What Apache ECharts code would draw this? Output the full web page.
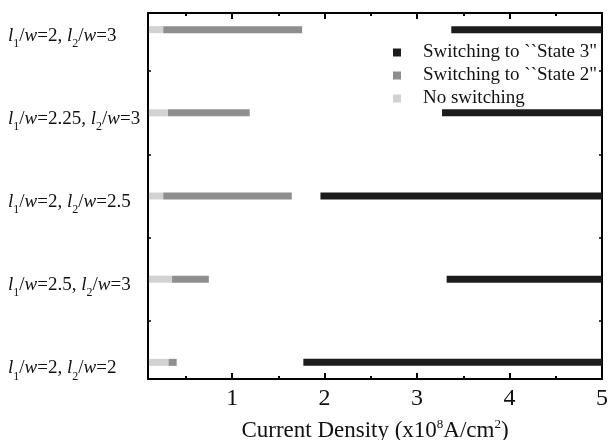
<!DOCTYPE html>
<html>
<head>
<meta charset="utf-8">
<script src="https://cdn.jsdelivr.net/npm/echarts@6/dist/echarts.min.js"></script>
<style>html,body{margin:0;padding:0;background:#fff}#c{width:609px;height:440px}</style>
</head>
<body>
<div id="c"></div>
<script>
// Rows from bottom (y=1) to top (y=5)
const rowPos = [1, 2, 3, 4, 5];
const l1Ratio = ['2', '2.5', '2', '2.25', '2'];
const l2Ratio = ['2', '3', '2.5', '3', '3'];
const noSwitchStart = [0.1, 0.1, 0.1, 0.1, 0.1];
const noSwitchEnd = [0.31, 0.35, 0.254, 0.305, 0.254];
const state2End = [0.40, 0.748, 1.645, 1.19, 1.757];
const state3Start = [1.77, 3.32, 1.955, 3.27, 3.37];
const state3End = [5, 5, 5, 5, 5];
const xTickLabels = [1, 2, 3, 4, 5];
const xMinorTicks = [0.5, 1.5, 2.5, 3.5, 4.5];
const yMinorTicks = [1.5, 2.5, 3.5, 4.5];
const seriesNames = ['Switching to ``State 3"', 'Switching to ``State 2"', 'No switching'];
const colors = ['#1c1c1c', '#8e8e8e', '#d2d2d2'];

const FONT = 'Liberation Serif';

function rows(starts, ends) {
  return rowPos.map((y, i) => [starts[i], ends[i], y]);
}

function renderBar(params, api) {
  const s = api.coord([api.value(0), api.value(2)]);
  const e = api.coord([api.value(1), api.value(2)]);
  const h = 7;
  return {
    type: 'rect',
    shape: { x: s[0], y: s[1] - h / 2, width: e[0] - s[0], height: h },
    style: { fill: api.visual('color') }
  };
}

const chart = echarts.init(document.getElementById('c'));
const axisLine = { show: true, onZero: false, lineStyle: { color: '#000', width: 2 } };
const yLabelRich = {
  i: { fontFamily: FONT, fontSize: 19, fontStyle: 'italic', color: '#111' },
  n: { fontFamily: FONT, fontSize: 19, color: '#111' },
  s: { fontFamily: FONT, fontSize: 12, color: '#111', padding: [16, 0, 0, 0] }
};
chart.setOption({
  animation: false,
  grid: { left: 148, right: 7, top: 13, bottom: 61, containLabel: false, outerBoundsMode: 'none' },
  legend: {
    orient: 'vertical', left: 388, top: 38, itemWidth: 8, itemHeight: 8, itemGap: 4,
    icon: 'rect',
    textStyle: { fontFamily: FONT, fontSize: 19, color: '#111', padding: [0, 0, 0, 17] },
    data: seriesNames
  },
  xAxis: [
    {
      type: 'value', min: 0.09, max: 5, position: 'bottom',
      axisLine: axisLine,
      axisTick: { show: true, inside: true, length: 6, customValues: xTickLabels, lineStyle: { color: '#000', width: 2 } },
      axisLabel: { customValues: xTickLabels, fontFamily: FONT, fontSize: 24, color: '#111', margin: 8 },
      splitLine: { show: false },
      name: 'Current Density (x10{sup|8}A/cm{sup|2})',
      nameLocation: 'middle', nameGap: 39,
      nameTextStyle: {
        fontFamily: FONT, fontSize: 23, color: '#111',
        rich: { sup: { fontFamily: FONT, fontSize: 13, color: '#111', padding: [0, 0, 12, 0] } }
      }
    },
    {
      type: 'value', min: 0.09, max: 5, position: 'bottom',
      axisLine: { show: false },
      axisTick: { show: true, inside: true, length: 3, customValues: xMinorTicks, lineStyle: { color: '#000', width: 2 } },
      axisLabel: { show: false }, splitLine: { show: false }
    },
    {
      type: 'value', min: 0.09, max: 5, position: 'top',
      axisLine: axisLine,
      axisTick: { show: true, inside: true, length: 6, customValues: xTickLabels, lineStyle: { color: '#000', width: 2 } },
      axisLabel: { show: false }, splitLine: { show: false }
    },
    {
      type: 'value', min: 0.09, max: 5, position: 'top',
      axisLine: { show: false },
      axisTick: { show: true, inside: true, length: 3, customValues: xMinorTicks, lineStyle: { color: '#000', width: 2 } },
      axisLabel: { show: false }, splitLine: { show: false }
    }
  ],
  yAxis: [
    {
      type: 'value', min: 0.8, max: 5.2, position: 'left',
      axisLine: axisLine,
      axisTick: { show: true, inside: true, length: 3, customValues: yMinorTicks, lineStyle: { color: '#000', width: 1.5 } },
      axisLabel: {
        customValues: rowPos, align: 'left', margin: 140, padding: [12, 0, 0, 0],
        formatter: function (v) {
          const i = rowPos.indexOf(v);
          if (i < 0) return '';
          return '{i|l}{s|1}{n|/}{i|w}{n|=' + l1Ratio[i] + ', }{i|l}{s|2}{n|/}{i|w}{n|=' + l2Ratio[i] + '}';
        },
        rich: yLabelRich
      },
      splitLine: { show: false }
    },
    {
      type: 'value', min: 0.8, max: 5.2, position: 'right',
      axisLine: axisLine,
      axisTick: { show: true, inside: true, length: 3, customValues: yMinorTicks, lineStyle: { color: '#000', width: 1.5 } },
      axisLabel: { show: false }, splitLine: { show: false }
    }
  ],
  series: [
    {
      name: seriesNames[0], type: 'custom', renderItem: renderBar,
      itemStyle: { color: colors[0] }, encode: { x: [0, 1], y: 2 },
      data: rows(state3Start, state3End)
    },
    {
      name: seriesNames[1], type: 'custom', renderItem: renderBar,
      itemStyle: { color: colors[1] }, encode: { x: [0, 1], y: 2 },
      data: rows(noSwitchEnd, state2End)
    },
    {
      name: seriesNames[2], type: 'custom', renderItem: renderBar,
      itemStyle: { color: colors[2] }, encode: { x: [0, 1], y: 2 },
      data: rows(noSwitchStart, noSwitchEnd)
    }
  ]
});
</script>
</body>
</html>
